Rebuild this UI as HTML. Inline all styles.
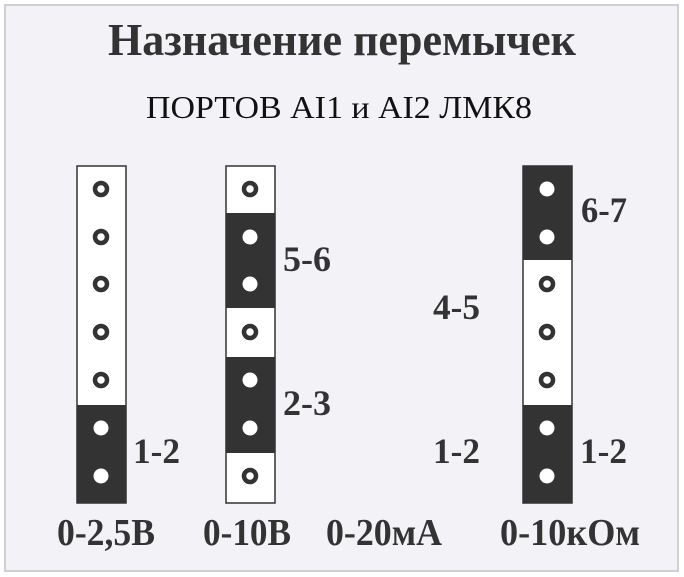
<!DOCTYPE html>
<html><head><meta charset="utf-8"><style>
html,body{margin:0;padding:0;background:#fff}
svg{display:block}
text{font-family:"Liberation Serif",serif;font-weight:bold;fill:#333}
</style></head><body>
<svg width="684" height="577" viewBox="0 0 684 577" xmlns="http://www.w3.org/2000/svg">
<rect x="0" y="0" width="684" height="577" fill="#fff"/>
<rect x="5" y="5" width="673" height="566" fill="#f2f2f7" stroke="#cfcfd4" stroke-width="2"/>
<text x="108" y="55" font-size="46" textLength="468" lengthAdjust="spacingAndGlyphs">Назначение перемычек</text>
<text x="146" y="118" font-size="32" style="font-weight:normal;fill:#111" textLength="386" lengthAdjust="spacingAndGlyphs">ПОРТОВ AI1 и AI2 ЛМК8</text>

<g stroke="#333" stroke-width="1.5">
<rect x="77" y="166" width="49" height="337" fill="#fff"/>
<rect x="226" y="166" width="49" height="337" fill="#fff"/>
<rect x="523" y="166" width="49" height="337" fill="#fff"/>
</g>
<g fill="#333">
<rect x="77" y="405" width="49" height="98"/>
<rect x="226" y="213" width="49" height="95"/>
<rect x="226" y="357" width="49" height="96"/>
<rect x="523" y="166" width="49" height="94"/>
<rect x="523" y="405" width="49" height="98"/>
</g>
<g fill="#fff" stroke="#333" stroke-width="4.5">
<circle cx="101" cy="189" r="6"/><circle cx="101" cy="237" r="6"/><circle cx="101" cy="284" r="6"/><circle cx="101" cy="332" r="6"/><circle cx="101" cy="380" r="6"/>
<circle cx="250" cy="189" r="6"/><circle cx="250" cy="332" r="6"/><circle cx="250" cy="476" r="6"/>
<circle cx="547" cy="284" r="6"/><circle cx="547" cy="332" r="6"/><circle cx="547" cy="380" r="6"/>
</g>
<g fill="#fff">
<circle cx="101" cy="428" r="7.5"/><circle cx="101" cy="476" r="7.5"/>
<circle cx="250" cy="237" r="7.5"/><circle cx="250" cy="284" r="7.5"/>
<circle cx="250" cy="380" r="7.5"/><circle cx="250" cy="428" r="7.5"/>
<circle cx="547" cy="189" r="7.5"/><circle cx="547" cy="237" r="7.5"/>
<circle cx="547" cy="428" r="7.5"/><circle cx="547" cy="476" r="7.5"/>
</g>
<g font-size="36">
<text x="283" y="271" textLength="48" lengthAdjust="spacingAndGlyphs">5-6</text>
<text x="283" y="415" textLength="48" lengthAdjust="spacingAndGlyphs">2-3</text>
<text x="133" y="463" textLength="47" lengthAdjust="spacingAndGlyphs">1-2</text>
<text x="433" y="319" textLength="47" lengthAdjust="spacingAndGlyphs">4-5</text>
<text x="433" y="463" textLength="47" lengthAdjust="spacingAndGlyphs">1-2</text>
<text x="581" y="222" textLength="46" lengthAdjust="spacingAndGlyphs">6-7</text>
<text x="580" y="463" textLength="47" lengthAdjust="spacingAndGlyphs">1-2</text>
</g>
<g font-size="38">
<text x="57" y="545" textLength="98" lengthAdjust="spacingAndGlyphs">0-2,5В</text>
<text x="203" y="545" textLength="88" lengthAdjust="spacingAndGlyphs">0-10В</text>
<text x="326" y="545" textLength="116" lengthAdjust="spacingAndGlyphs">0-20мА</text>
<text x="500" y="545" textLength="140" lengthAdjust="spacingAndGlyphs">0-10кОм</text>
</g>
</svg>
</body></html>
